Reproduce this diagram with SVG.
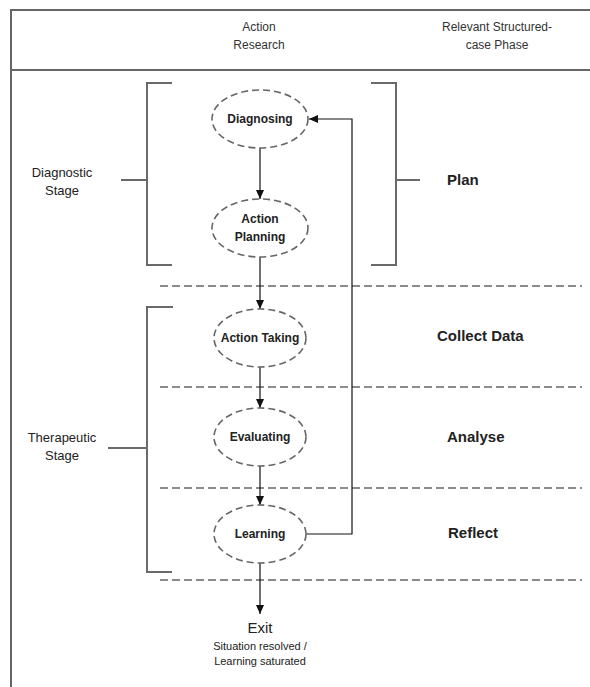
<svg xmlns="http://www.w3.org/2000/svg" width="590" height="687" viewBox="0 0 590 687">
<defs>
<marker id="ah" markerWidth="10" markerHeight="10" refX="9" refY="5" orient="auto" markerUnits="userSpaceOnUse">
<path d="M0,1 L9,5 L0,9 Z" fill="#111"/>
</marker>
<style>
text{font-family:"Liberation Sans",Arial,sans-serif;fill:#222}
.hdr{font-size:12px;text-anchor:middle;fill:#333}
.stage{font-size:13px;text-anchor:middle}
.phase{font-size:15px;font-weight:bold}
.nl{font-size:12px;font-weight:bold;text-anchor:middle}
.frame{fill:none;stroke:#666;stroke-width:2}
.br{fill:none;stroke:#6a6a6a;stroke-width:2}
.sep{stroke:#666;stroke-width:1.6;stroke-dasharray:8 4;fill:none}
.el{fill:#fff;stroke:#666;stroke-width:1.6;stroke-dasharray:7 4}
.ar{stroke:#111;stroke-width:1.2;fill:none}
</style>
</defs>
<rect width="590" height="687" fill="#fff"/>
<g id="frame">
<path class="frame" d="M11,687 V10 H590"/>
<path class="frame" d="M11,70 H590"/>
<text class="hdr" x="259" y="31">Action</text>
<text class="hdr" x="259" y="49">Research</text>
<text class="hdr" x="497" y="31">Relevant Structured-</text>
<text class="hdr" x="497" y="49">case Phase</text>
</g>
<g id="separators">
<path class="sep" d="M160,286 H582"/>
<path class="sep" d="M160,387 H582"/>
<path class="sep" d="M160,488 H582"/>
<path class="sep" d="M160,580 H582"/>
</g>
<g id="diagnostic-stage">
<path class="br" d="M172,83 H147 V265 H172"/>
<path class="br" d="M121,180 H147"/>
<text class="stage" x="62" y="177">Diagnostic</text>
<text class="stage" x="62" y="195">Stage</text>
</g>
<g id="plan-bracket">
<path class="br" d="M371,83 H396 V265 H371"/>
<path class="br" d="M396,180 H420"/>
</g>
<g id="therapeutic-stage">
<path class="br" d="M173,307 H147 V572 H172"/>
<path class="br" d="M108,448 H147"/>
<text class="stage" x="62" y="442">Therapeutic</text>
<text class="stage" x="62" y="460">Stage</text>
</g>
<g id="phases">
<text class="phase" x="447" y="185">Plan</text>
<text class="phase" x="437" y="341">Collect Data</text>
<text class="phase" x="447" y="442">Analyse</text>
<text class="phase" x="448" y="538">Reflect</text>
</g>
<g id="connectors">
<path class="ar" d="M260,148 V199" marker-end="url(#ah)"/>
<path class="ar" d="M260,257 V309" marker-end="url(#ah)"/>
<path class="ar" d="M260,367 V408" marker-end="url(#ah)"/>
<path class="ar" d="M260,466 V505" marker-end="url(#ah)"/>
<path class="ar" d="M260,563 V614" marker-end="url(#ah)"/>
<path class="ar" d="M305,534 H352 V119 H309" marker-end="url(#ah)"/>
</g>
<g id="diagnosing">
<ellipse class="el" cx="260" cy="119" rx="48" ry="29"/>
<text class="nl" x="260" y="123">Diagnosing</text>
</g>
<g id="action-planning">
<ellipse class="el" cx="260" cy="228" rx="48" ry="29"/>
<text class="nl" x="260" y="223">Action</text>
<text class="nl" x="260" y="241">Planning</text>
</g>
<g id="action-taking">
<ellipse class="el" cx="260" cy="338" rx="46" ry="29"/>
<text class="nl" x="260" y="342">Action Taking</text>
</g>
<g id="evaluating">
<ellipse class="el" cx="260" cy="437" rx="46" ry="29"/>
<text class="nl" x="260" y="441">Evaluating</text>
</g>
<g id="learning">
<ellipse class="el" cx="260" cy="534" rx="46" ry="29"/>
<text class="nl" x="260" y="538">Learning</text>
</g>
<g id="exit">
<text x="260" y="633" style="font-size:15px;text-anchor:middle">Exit</text>
<text x="260" y="650" style="font-size:11px;text-anchor:middle">Situation resolved /</text>
<text x="260" y="665" style="font-size:11px;text-anchor:middle">Learning saturated</text>
</g>
</svg>
